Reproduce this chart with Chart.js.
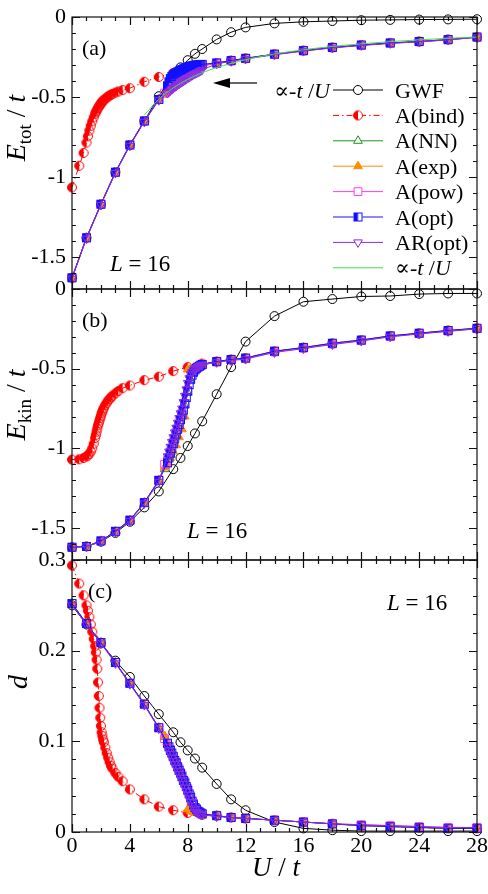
<!DOCTYPE html>
<html>
<head>
<meta charset="utf-8">
<script src="https://cdn.jsdelivr.net/npm/chart.js@4.4.0/dist/chart.umd.min.js"></script>
<style>
html, body { margin: 0; padding: 0; background: #fff; }
#wrap { position: relative; width: 488px; height: 894px; }
#wrap canvas { position: absolute; left: 0; top: 0; }
</style>
</head>
<body>
<div id="wrap">
  <canvas id="pa" width="488" height="894"></canvas>
  <canvas id="pb" width="488" height="894"></canvas>
  <canvas id="pc" width="488" height="894"></canvas>
</div>
<script>
// ---- data ----
const uGWF = [0, 1, 2, 3, 4, 5, 6, 7, 7.5, 8, 8.5, 9, 10, 11, 12, 14, 16, 18, 20, 22, 24, 26, 28];
const gwfEtot = [-1.63, -1.38, -1.17, -0.97, -0.80, -0.65, -0.495, -0.36, -0.315, -0.27, -0.23, -0.2, -0.14, -0.095, -0.065, -0.04, -0.03, -0.025, -0.02, -0.018, -0.016, -0.015, -0.014];
const gwfEkin = [-1.62, -1.615, -1.585, -1.53, -1.46, -1.37, -1.27, -1.13, -1.06, -0.985, -0.906, -0.83, -0.66, -0.49, -0.33, -0.17, -0.08, -0.063, -0.047, -0.044, -0.032, -0.028, -0.028];
const gwfD = [0.25, 0.229, 0.208, 0.189, 0.171, 0.150, 0.130, 0.110, 0.099, 0.090, 0.081, 0.071, 0.053, 0.036, 0.024, 0.011, 0.004, 0.002, 0.001, 0.001, 0.001, 0.001, 0.001];

const uBind = [0, 0.5, 0.8, 1.0, 1.1, 1.2, 1.3, 1.4, 1.5, 1.6, 1.65, 1.7, 1.75, 1.8, 1.85, 1.9, 1.95, 2.0, 2.05, 2.1, 2.15, 2.2,
  2.3, 2.4, 2.5, 2.6, 2.7, 2.8, 3.0, 3.2, 3.5, 4, 5, 6, 7, 8, 9, 10, 11, 12, 14, 16, 18, 20, 22, 24, 26, 28];
const bindEtot = [-1.065, -0.93, -0.85, -0.785, -0.745, -0.71, -0.68, -0.652, -0.627, -0.605, -0.595, -0.586, -0.577, -0.569, -0.561, -0.554, -0.547, -0.541, -0.535, -0.529, -0.524, -0.519,
  -0.511, -0.504, -0.497, -0.491, -0.486, -0.481, -0.473, -0.466, -0.457, -0.445, -0.405, -0.375, -0.35, -0.325, -0.305, -0.288, -0.273, -0.258, -0.232, -0.21, -0.19, -0.175, -0.162, -0.153, -0.141, -0.126];
const bindEkin = [-1.07, -1.068, -1.06, -1.05, -1.045, -1.035, -1.02, -1.0, -0.97, -0.935, -0.915, -0.895, -0.875, -0.855, -0.84, -0.825, -0.81, -0.795, -0.78, -0.768, -0.756, -0.745,
  -0.728, -0.714, -0.70, -0.69, -0.68, -0.67, -0.655, -0.64, -0.622, -0.605, -0.572, -0.55, -0.515, -0.49, -0.468, -0.455, -0.443, -0.434, -0.391, -0.368, -0.341, -0.321, -0.295, -0.278, -0.261, -0.247];
const bindD = [0.294, 0.274, 0.261, 0.250, 0.244, 0.237, 0.229, 0.221, 0.213, 0.205, 0.198, 0.19, 0.18, 0.165, 0.15, 0.137, 0.126, 0.117, 0.110, 0.106, 0.102, 0.099,
  0.093, 0.087, 0.082, 0.077, 0.073, 0.070, 0.065, 0.061, 0.056, 0.047, 0.036, 0.028, 0.024, 0.021, 0.019, 0.018, 0.016, 0.015, 0.013, 0.011, 0.009, 0.007, 0.006, 0.005, 0.004, 0.004];

// A(opt) and AR(opt): dense sampling through the transition
const uOpt = [0, 1, 2, 3, 4, 5, 6, 6.6, 6.7, 6.8, 6.9, 7.0, 7.1, 7.2, 7.3, 7.4, 7.5, 7.6, 7.7, 7.8, 7.9, 8.0, 8.1, 8.2, 8.3, 8.4, 8.5, 8.6, 8.7, 8.8, 8.9, 9.0,
  10, 11, 12, 14, 16, 18, 20, 22, 24, 26, 28];
const optEtot = [-1.63, -1.38, -1.17, -0.97, -0.80, -0.65, -0.515,
  -0.43, -0.405, -0.385, -0.372, -0.362, -0.355, -0.349, -0.343, -0.338, -0.333, -0.328, -0.324, -0.32, -0.316, -0.313, -0.31, -0.307, -0.305, -0.303, -0.301, -0.3, -0.299, -0.298, -0.297, -0.296,
  -0.287, -0.272, -0.258, -0.232, -0.21, -0.19, -0.175, -0.162, -0.153, -0.141, -0.125];
const arEtot = [-1.635, -1.385, -1.175, -0.975, -0.805, -0.655, -0.52,
  -0.475, -0.468, -0.46, -0.452, -0.445, -0.438, -0.431, -0.424, -0.418, -0.412, -0.406, -0.40, -0.394, -0.388, -0.382, -0.376, -0.37, -0.364, -0.358, -0.354, -0.35, -0.345, -0.34, -0.335, -0.33,
  -0.293, -0.277, -0.262, -0.236, -0.213, -0.193, -0.178, -0.165, -0.155, -0.143, -0.127];
const optEkin = [-1.62, -1.615, -1.58, -1.52, -1.45, -1.34, -1.20,
  -1.09, -1.06, -1.03, -1.00, -0.97, -0.94, -0.91, -0.88, -0.85, -0.82, -0.79, -0.76, -0.72, -0.68, -0.64, -0.60, -0.565, -0.54, -0.52, -0.507, -0.497, -0.49, -0.484, -0.478, -0.473,
  -0.455, -0.442, -0.433, -0.39, -0.367, -0.34, -0.32, -0.294, -0.277, -0.26, -0.246];
const arEkin = [-1.62, -1.615, -1.585, -1.525, -1.455, -1.345, -1.21,
  -1.05, -1.02, -0.99, -0.96, -0.93, -0.90, -0.87, -0.84, -0.81, -0.78, -0.75, -0.71, -0.67, -0.63, -0.59, -0.56, -0.535, -0.52, -0.51, -0.502, -0.495, -0.489, -0.483, -0.478, -0.474,
  -0.46, -0.448, -0.44, -0.398, -0.374, -0.348, -0.326, -0.30, -0.282, -0.266, -0.25];
const optD = [0.252, 0.230, 0.209, 0.187, 0.164, 0.141, 0.115,
  0.098, 0.094, 0.090, 0.087, 0.083, 0.079, 0.076, 0.072, 0.068, 0.065, 0.061, 0.057, 0.054, 0.050, 0.046, 0.042, 0.038, 0.034, 0.030, 0.027, 0.025, 0.023, 0.022, 0.021, 0.020,
  0.018, 0.016, 0.015, 0.013, 0.011, 0.009, 0.007, 0.006, 0.005, 0.004, 0.004];
const arD = [0.25, 0.229, 0.208, 0.186, 0.163, 0.14, 0.114,
  0.094, 0.090, 0.086, 0.082, 0.078, 0.075, 0.071, 0.067, 0.064, 0.060, 0.057, 0.053, 0.049, 0.045, 0.041, 0.037, 0.033, 0.029, 0.026, 0.024, 0.022, 0.021, 0.020, 0.0195, 0.019,
  0.017, 0.016, 0.015, 0.013, 0.011, 0.009, 0.008, 0.007, 0.006, 0.005, 0.005];

// A(NN), A(exp), A(pow)
const uMid = [0, 1, 2, 3, 4, 5, 6, 6.4, 6.6, 6.8, 7.0, 7.2, 7.4, 7.6, 7.8, 8.0, 8.2, 8.4, 8.6, 8.8, 9.0, 10, 11, 12, 14, 16, 18, 20, 22, 24, 26, 28];
const nnEtot = [-1.63, -1.38, -1.17, -0.97, -0.80, -0.65, -0.515,
  -0.48, -0.455, -0.43, -0.41, -0.393, -0.378, -0.365, -0.353, -0.343, -0.334, -0.326, -0.318, -0.311, -0.305,
  -0.29, -0.274, -0.259, -0.233, -0.211, -0.191, -0.176, -0.163, -0.154, -0.142, -0.126];
const expEtot = [-1.63, -1.38, -1.17, -0.97, -0.80, -0.65, -0.515,
  -0.485, -0.462, -0.44, -0.42, -0.402, -0.387, -0.373, -0.36, -0.335, -0.325, -0.318, -0.312, -0.307, -0.302,
  -0.289, -0.273, -0.258, -0.232, -0.21, -0.19, -0.175, -0.162, -0.153, -0.141, -0.125];
const powEtot = [-1.63, -1.38, -1.17, -0.97, -0.80, -0.65, -0.515,
  -0.475, -0.448, -0.422, -0.40, -0.383, -0.369, -0.357, -0.347, -0.338, -0.33, -0.322, -0.315, -0.309, -0.303,
  -0.29, -0.275, -0.26, -0.234, -0.212, -0.192, -0.177, -0.164, -0.155, -0.143, -0.127];
const nnEkin = [-1.62, -1.615, -1.58, -1.52, -1.45, -1.34, -1.20,
  -1.13, -1.09, -1.035, -0.975, -0.915, -0.855, -0.795, -0.73, -0.65, -0.57, -0.525, -0.50, -0.487, -0.476,
  -0.456, -0.443, -0.434, -0.392, -0.368, -0.342, -0.321, -0.296, -0.278, -0.262, -0.247];
const expEkin = [-1.62, -1.615, -1.58, -1.52, -1.45, -1.34, -1.20,
  -1.12, -1.10, -1.06, -1.02, -0.98, -0.93, -0.88, -0.80, -0.505, -0.50, -0.495, -0.49, -0.485, -0.48,
  -0.455, -0.442, -0.433, -0.39, -0.367, -0.34, -0.32, -0.294, -0.277, -0.26, -0.246];
const powEkin = [-1.62, -1.615, -1.58, -1.52, -1.45, -1.34, -1.20,
  -1.10, -1.075, -1.02, -0.96, -0.90, -0.84, -0.78, -0.72, -0.64, -0.57, -0.525, -0.50, -0.487, -0.476,
  -0.457, -0.445, -0.436, -0.395, -0.371, -0.345, -0.324, -0.298, -0.28, -0.264, -0.249];
const nnD = [0.252, 0.230, 0.209, 0.187, 0.164, 0.141, 0.115,
  0.105, 0.097, 0.090, 0.083, 0.076, 0.069, 0.062, 0.055, 0.047, 0.039, 0.031, 0.025, 0.022, 0.020,
  0.018, 0.016, 0.015, 0.013, 0.011, 0.009, 0.007, 0.006, 0.005, 0.004, 0.004];
const expD = [0.252, 0.230, 0.209, 0.187, 0.164, 0.141, 0.115,
  0.106, 0.099, 0.092, 0.085, 0.078, 0.071, 0.064, 0.057, 0.025, 0.023, 0.022, 0.021, 0.020, 0.019,
  0.018, 0.016, 0.015, 0.013, 0.011, 0.009, 0.007, 0.006, 0.005, 0.004, 0.004];
const powD = [0.252, 0.230, 0.209, 0.187, 0.164, 0.141, 0.115,
  0.103, 0.097, 0.091, 0.084, 0.077, 0.070, 0.063, 0.056, 0.048, 0.040, 0.032, 0.026, 0.022, 0.020,
  0.018, 0.016, 0.015, 0.013, 0.011, 0.009, 0.008, 0.007, 0.006, 0.005, 0.005];

// ~ -t/U guide line (panel a only)
const uFit = [5, 6, 7, 8, 9, 10, 12, 14, 16, 18, 20, 22, 24, 26, 28];
const fitEtot = [-0.613, -0.514, -0.443, -0.390, -0.349, -0.316, -0.267, -0.231, -0.205, -0.184, -0.168, -0.154, -0.143, -0.133, -0.125];

const yTicksE = [0, -0.5, -1, -1.5];
const yTicksD = [0, 0.1, 0.2, 0.3];
const xTicks = [0, 4, 8, 12, 16, 20, 24, 28];

// ---- styling ----
const SERIF = '"Liberation Serif", "DejaVu Serif", serif';
const CLEAR = 'rgba(0,0,0,0)';

function makeHalf(shape, color, r) {
  const s = Math.ceil(r * 2 + 3);
  const c = document.createElement('canvas');
  c.width = s; c.height = s;
  const g = c.getContext('2d');
  const m = s / 2;
  g.fillStyle = color; g.strokeStyle = color; g.lineWidth = 1;
  if (shape === 'circle') {
    g.beginPath(); g.arc(m, m, r, Math.PI / 2, Math.PI * 1.5); g.closePath(); g.fill();
    g.beginPath(); g.arc(m, m, r, 0, Math.PI * 2); g.stroke();
  } else {
    g.fillRect(m - r, m - r, r, 2 * r);
    g.strokeRect(m - r, m - r, 2 * r, 2 * r);
  }
  return c;
}
const halfDisc = makeHalf('circle', '#ff0000', 4.5);
const halfBox = makeHalf('square', '#1010ff', 4);

const STYLE = {
  gwf:  { color: '#000000', pointStyle: 'circle', r: 4.5, fill: CLEAR, order: 8 },
  bind: { color: '#ff0000', pointStyle: halfDisc, r: 4.5, fill: CLEAR, order: 7, dash: [6, 3, 1.5, 3] },
  nn:   { color: '#1e961e', pointStyle: 'triangle', r: 5, fill: CLEAR, order: 6 },
  exp:  { color: '#ff8c00', pointStyle: 'triangle', r: 5, fill: '#ff8c00', order: 5 },
  pow:  { color: '#ff3cff', pointStyle: 'rect', r: 5.5, fill: CLEAR, order: 4 },
  opt:  { color: '#1010ff', pointStyle: halfBox, r: 4.5, fill: CLEAR, order: 3 },
  ar:   { color: '#8a2be2', pointStyle: 'triangle', r: 5, fill: CLEAR, order: 2, rot: 180 },
  fit:  { color: '#44dd44', pointStyle: 'circle', r: 0, fill: CLEAR, order: 1 }
};

const pts = (xs, ys) => xs.map((x, i) => ({ x: x, y: ys[i] }));

function ds(key, label, xs, ys) {
  const s = STYLE[key];
  return {
    label: label,
    data: pts(xs, ys),
    borderColor: s.color,
    borderWidth: 1,
    borderDash: s.dash || [],
    pointStyle: s.pointStyle,
    pointRadius: s.r,
    pointRotation: s.rot || 0,
    pointBorderColor: s.color,
    pointBackgroundColor: s.fill,
    pointBorderWidth: 1,
    tension: key === 'fit' ? 0.3 : 0,
    fill: false,
    clip: false,
    order: s.order
  };
}

// ---- drawing helpers ----
function rich(ctx, x, y, parts, align) {
  let w = 0;
  parts.forEach(p => { ctx.font = p[1]; w += ctx.measureText(p[0]).width; });
  let cx = align === 'center' ? x - w / 2 : (align === 'right' ? x - w : x);
  parts.forEach(p => {
    ctx.font = p[1];
    ctx.fillText(p[0], cx, y + (p[2] || 0));
    cx += ctx.measureText(p[0]).width;
  });
}

function frame(chart, n, step, majorEvery) {
  const { ctx, chartArea: a, scales: { x, y } } = chart;
  ctx.save();
  ctx.strokeStyle = '#111';
  ctx.lineWidth = 1.2;
  ctx.strokeRect(a.left, a.top, a.right - a.left, a.bottom - a.top);
  ctx.beginPath();
  for (let u = 0; u <= 28; u++) {
    const px = Math.round(x.getPixelForValue(u)) + 0.5;
    const len = u % 4 === 0 ? 8 : 4;
    ctx.moveTo(px, a.bottom); ctx.lineTo(px, a.bottom - len);
    ctx.moveTo(px, a.top); ctx.lineTo(px, a.top + len);
  }
  for (let k = 0; k <= n; k++) {
    const py = Math.round(y.getPixelForValue(k * step)) + 0.5;
    const len = k % majorEvery === 0 ? 8 : 4;
    ctx.moveTo(a.left, py); ctx.lineTo(a.left + len, py);
    ctx.moveTo(a.right, py); ctx.lineTo(a.right - len, py);
  }
  ctx.stroke();
  ctx.restore();
}

function legendMarker(ctx, key, cx, cy) {
  const s = STYLE[key];
  ctx.save();
  ctx.strokeStyle = s.color; ctx.fillStyle = s.color; ctx.lineWidth = 1;
  ctx.beginPath();
  ctx.moveTo(333, cy); ctx.lineTo(383, cy);
  ctx.setLineDash(s.dash || []);
  ctx.stroke();
  ctx.setLineDash([]);
  if (s.r > 0) {
    if (typeof s.pointStyle !== 'string') {
      ctx.fillStyle = '#fff';
      ctx.fillRect(cx - s.r, cy - s.r, 2 * s.r, 2 * s.r);
      ctx.drawImage(s.pointStyle, cx - s.pointStyle.width / 2, cy - s.pointStyle.height / 2);
    } else {
      ctx.beginPath();
      if (s.pointStyle === 'circle') {
        ctx.arc(cx, cy, s.r, 0, Math.PI * 2);
      } else if (s.pointStyle === 'rect') {
        const h = s.r / Math.SQRT2;
        ctx.rect(cx - h, cy - h, 2 * h, 2 * h);
      } else {
        let rad = (s.rot || 0) * Math.PI / 180;
        for (let i = 0; i < 3; i++) {
          const px = cx + Math.sin(rad) * s.r, py = cy - Math.cos(rad) * s.r;
          if (i === 0) ctx.moveTo(px, py); else ctx.lineTo(px, py);
          rad += Math.PI * 2 / 3;
        }
        ctx.closePath();
      }
      ctx.fillStyle = s.fill === CLEAR ? '#fff' : s.fill;
      ctx.fill();
      ctx.stroke();
    }
  }
  ctx.restore();
}

const propTo = size => [
  ['\u221D', size + 'px ' + SERIF], ['-', size + 'px ' + SERIF],
  ['t', 'italic ' + size + 'px ' + SERIF], [' /', size + 'px ' + SERIF], ['U', 'italic ' + size + 'px ' + SERIF]
];

function yTitle(ctx, bx, cy, parts) {
  ctx.save();
  ctx.translate(bx, cy);
  ctx.rotate(-Math.PI / 2);
  rich(ctx, 0, 0, parts, 'center');
  ctx.restore();
}

const decor = {
  pa(chart) {
    const ctx = chart.ctx;
    frame(chart, 17, -0.1, 5);
    ctx.save();
    ctx.fillStyle = '#000';
    ctx.textBaseline = 'alphabetic';
    rich(ctx, 82, 55, [['(a)', '22px ' + SERIF]], 'left');
    rich(ctx, 110, 271, [['L', 'italic 23px ' + SERIF], [' = 16', '23px ' + SERIF]], 'left');
    yTitle(ctx, 25, 128, [['E', 'italic 28px ' + SERIF], ['tot', '19px ' + SERIF, 6], [' / ', '28px ' + SERIF], ['t', 'italic 28px ' + SERIF]]);
    // legend
    const rows = [['gwf', 'GWF'], ['bind', 'A(bind)'], ['nn', 'A(NN)'], ['exp', 'A(exp)'], ['pow', 'A(pow)'], ['opt', 'A(opt)'], ['ar', 'AR(opt)'], ['fit', null]];
    rows.forEach((r, i) => {
      const cy = 90 + i * 25.4;
      legendMarker(ctx, r[0], 358, cy);
      ctx.fillStyle = '#000';
      if (r[1]) rich(ctx, 395, cy + 7.5, [[r[1], '22px ' + SERIF]], 'left');
      else rich(ctx, 395, cy + 7.5, propTo(22), 'left');
    });
    // annotation of the guide line
    rich(ctx, 330, 97.5, propTo(22), 'right');
    ctx.strokeStyle = '#000'; ctx.lineWidth = 1.2;
    ctx.beginPath(); ctx.moveTo(257, 83); ctx.lineTo(226, 83); ctx.stroke();
    ctx.beginPath(); ctx.moveTo(213, 83); ctx.lineTo(230, 78); ctx.lineTo(230, 88); ctx.closePath(); ctx.fill();
    ctx.restore();
  },
  pb(chart) {
    const ctx = chart.ctx;
    frame(chart, 17, -0.1, 5);
    ctx.save();
    ctx.fillStyle = '#000';
    rich(ctx, 82, 327, [['(b)', '22px ' + SERIF]], 'left');
    rich(ctx, 187, 538, [['L', 'italic 23px ' + SERIF], [' = 16', '23px ' + SERIF]], 'left');
    yTitle(ctx, 25, 405, [['E', 'italic 28px ' + SERIF], ['kin', '19px ' + SERIF, 6], [' / ', '28px ' + SERIF], ['t', 'italic 28px ' + SERIF]]);
    ctx.restore();
  },
  pc(chart) {
    const ctx = chart.ctx;
    frame(chart, 15, 0.02, 5);
    ctx.save();
    ctx.fillStyle = '#000';
    rich(ctx, 88, 598, [['(c)', '22px ' + SERIF]], 'left');
    rich(ctx, 387, 610, [['L', 'italic 23px ' + SERIF], [' = 16', '23px ' + SERIF]], 'left');
    yTitle(ctx, 27, 682, [['d', 'italic 28px ' + SERIF]]);
    rich(ctx, 276, 876, [['U', 'italic 27px ' + SERIF], [' / ', '27px ' + SERIF], ['t', 'italic 27px ' + SERIF]], 'center');
    ctx.restore();
  }
};

const decorPlugin = {
  id: 'decor',
  afterDatasetsDraw(chart) { decor[chart.canvas.id](chart); }
};

function panel(id, datasets, yMin, yMax, yTicks, top, bottom, showX) {
  return new Chart(document.getElementById(id), {
    type: 'line',
    data: { datasets: datasets },
    options: {
      responsive: false,
      animation: false,
      events: [],
      layout: { padding: { left: 0, right: 11, top: top, bottom: bottom } },
      plugins: { legend: { display: false }, tooltip: { enabled: false } },
      scales: {
        x: {
          type: 'linear', min: 0, max: 28, display: showX,
          grid: { display: false, drawTicks: false }, border: { display: false },
          afterBuildTicks: s => { s.ticks = xTicks.map(v => ({ value: v })); },
          afterFit: s => {
            s.height = showX ? 62 : 0;
            s.paddingLeft = 0; s.paddingRight = 0;
          },
          ticks: { autoSkip: false, maxRotation: 0, padding: 1, color: '#000', font: { family: SERIF, size: 22 }, callback: v => String(v) }
        },
        y: {
          type: 'linear', min: yMin, max: yMax,
          grid: { display: false, drawTicks: false }, border: { display: false },
          afterBuildTicks: s => { s.ticks = yTicks.map(v => ({ value: v })); },
          afterFit: s => { s.width = 72; s.paddingTop = 0; s.paddingBottom = 0; },
          ticks: { autoSkip: false, padding: 6, color: '#000', font: { family: SERIF, size: 22 }, callback: v => String(v) }
        }
      }
    },
    plugins: [decorPlugin]
  });
}

panel('pa', [
  ds('gwf', 'GWF', uGWF, gwfEtot),
  ds('bind', 'A(bind)', uBind, bindEtot),
  ds('nn', 'A(NN)', uMid, nnEtot),
  ds('exp', 'A(exp)', uMid, expEtot),
  ds('pow', 'A(pow)', uMid, powEtot),
  ds('opt', 'A(opt)', uOpt, optEtot),
  ds('ar', 'AR(opt)', uOpt, arEtot),
  ds('fit', '\u221D-t/U', uFit, fitEtot)
], -1.7, 0, yTicksE, 17, 894 - 289, false);

panel('pb', [
  ds('gwf', 'GWF', uGWF, gwfEkin),
  ds('bind', 'A(bind)', uBind, bindEkin),
  ds('nn', 'A(NN)', uMid, nnEkin),
  ds('exp', 'A(exp)', uMid, expEkin),
  ds('pow', 'A(pow)', uMid, powEkin),
  ds('opt', 'A(opt)', uOpt, optEkin),
  ds('ar', 'AR(opt)', uOpt, arEkin)
], -1.7, 0, yTicksE, 289, 894 - 560, false);

panel('pc', [
  ds('gwf', 'GWF', uGWF, gwfD),
  ds('bind', 'A(bind)', uBind, bindD),
  ds('nn', 'A(NN)', uMid, nnD),
  ds('exp', 'A(exp)', uMid, expD),
  ds('pow', 'A(pow)', uMid, powD),
  ds('opt', 'A(opt)', uOpt, optD),
  ds('ar', 'AR(opt)', uOpt, arD)
], 0, 0.3, yTicksD, 560, 0, true);
</script>
</body>
</html>
